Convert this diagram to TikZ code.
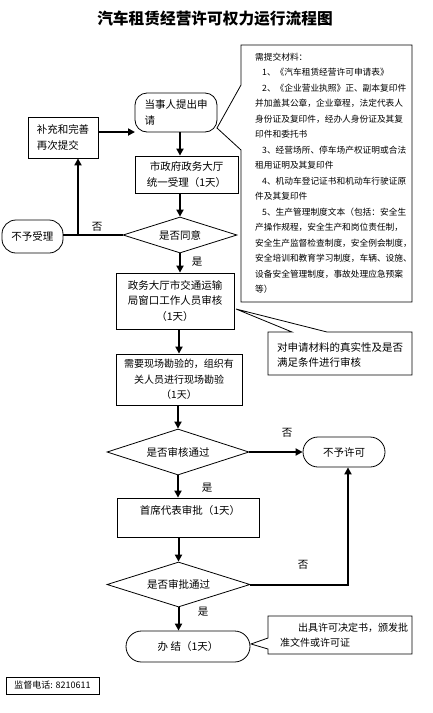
\documentclass[tikz,border=0pt]{standalone}
\usepackage{fontspec}
\setmainfont{Noto Sans CJK SC}
\usetikzlibrary{shapes.geometric,arrows.meta}
\begin{document}
\begin{tikzpicture}[x=1pt,y=-1pt,
  box/.style={draw,line width=0.8pt,inner sep=0pt,align=center,font=\fontsize{10.5}{15.5}\selectfont},
  rbox/.style={box,rounded corners=#1},
  dia/.style={draw,diamond,line width=0.8pt,inner sep=0pt,font=\fontsize{10.5}{15}\selectfont},
  arr/.style={line width=2pt,-{Triangle[length=7pt,width=7pt]}},
  conn/.style={line width=2pt},
  lab/.style={font=\fontsize{10.5}{12}\selectfont,inner sep=0pt},
  thinline/.style={line width=0.8pt,line join=miter},
  txt/.style={inner sep=0pt,align=left,font=\fontsize{10.5}{15}\selectfont}
]
\useasboundingbox (0,0) rectangle (433,713);
\fill[white] (0,0) rectangle (433,713);

% title
\node[inner sep=0pt,font=\fontsize{15.7}{18}\selectfont\bfseries] (title) at (215,19) {汽车租赁经营许可权力运行流程图};

% materials callout
\draw[thinline] (241,45) -- (412,45) -- (412,302) -- (241,302) -- (241,150) -- (217,128) -- (241,85) -- cycle;
\node[anchor=north west,inner sep=0pt,align=left,font=\fontsize{8.7}{15.5}\selectfont] (mat) at (255,52.5) {需提交材料：\\
\hspace*{7pt}1、《汽车租赁经营许可申请表》\\
\hspace*{7pt}2、《企业营业执照》正、副本复印件\\
并加盖其公章，企业章程，法定代表人\\
身份证及复印件，经办人身份证及其复\\
印件和委托书\\
\hspace*{7pt}3、经营场所、停车场产权证明或合法\\
租用证明及其复印件\\
\hspace*{7pt}4、机动车登记证书和机动车行驶证原\\
件及其复印件\\
\hspace*{7pt}5、生产管理制度文本（包括：安全生\\
产操作规程，安全生产和岗位责任制，\\
安全生产监督检查制度，安全例会制度，\\
安全培训和教育学习制度，车辆、设施、\\
设备安全管理制度，事故处理应急预案\\
等）};

% main nodes
\node[rbox=12pt,minimum width=82pt,minimum height=39pt,align=left] (start) at (176,112.5) {当事人提出申\\请};
\node[box,minimum width=70pt,minimum height=41pt,align=left] (bu) at (63,137.5) {补充和完善\\再次提交};
\node[box,minimum width=103pt,minimum height=37pt] (shou) at (186.5,174.5) {市政府政务大厅\\统一受理（1天）};
\node[dia,aspect=3.17,minimum width=114pt,minimum height=36pt] (d1) at (180,235) {是否同意};
\node[rbox=14pt,minimum width=61pt,minimum height=33pt] (buyu) at (32.5,236.5) {不予受理};
\node[box,minimum width=118pt,minimum height=56pt] (s3) at (175,301) {政务大厅市交通运输\\局窗口工作人员审核\\（1天）};

% callout 2
\draw[thinline] (292,332) -- (268,332) -- (268,375) -- (412,375) -- (412,332) -- (327,332) -- (236,309) -- cycle;
\node[txt,anchor=west] (c2) at (277,354.5) {对申请材料的真实性及是否\\满足条件进行审核};

\node[box,minimum width=126pt,minimum height=51pt,font=\fontsize{10}{15.5}\selectfont] (s4) at (179,379.5) {需要现场勘验的，组织有\\关人员进行现场勘验\\（1天）};
\node[dia,aspect=3.09,minimum width=142pt,minimum height=46pt] (d2) at (178,452) {是否审核通过};
\node[rbox=15pt,minimum width=82pt,minimum height=30pt] (np) at (344,452) {不予许可};
\node[box,minimum width=142pt,minimum height=39pt] (s5) at (188,517.5) {};
\node[txt] (s5t) at (190,511) {首席代表审批（1天）};
\node[dia,aspect=3.18,minimum width=143pt,minimum height=45pt] (d3) at (178.5,584.5) {是否审批通过};
\node[rbox=15.5pt,minimum width=124pt,minimum height=31pt] (fin) at (188,646.5) {办\ 结（1天）};

% callout 3
\draw[thinline] (268,638) -- (268,616) -- (412,616) -- (412,654) -- (268,654) -- (268,649) -- (251,644) -- cycle;
\node[txt,anchor=west,font=\fontsize{10}{15}\selectfont] (c3) at (280,635.5) {\hspace*{18pt}出具许可决定书，颁发批\\准文件或许可证};

% phone
\node[box,minimum width=93pt,minimum height=17pt,font=\fontsize{9}{10}\selectfont] (tel) at (52.5,685.5) {监督电话: 8210611};

% connectors
\coordinate (a1) at (135,132);
\coordinate (j1) at (78,235);
\coordinate (cx1) at (180,0);
\coordinate (cx2) at (348,0);
\draw[arr] (bu.east |- a1) -- (a1);
\draw[arr] (start.south -| cx1) -- (shou.north -| cx1);
\draw[arr] (shou.south -| d1.north) -- (d1.north);
\draw[conn] (d1.west) -- (d1.west -| buyu.east);
\draw[arr] (d1.west -| j1) -- (j1 |- bu.south);
\draw[arr] (d1.south) -- (d1.south |- s3.north);
\draw[arr] (s3.south -| s4.north) -- (s4.north);
\draw[arr] (s4.south -| d2.north) -- (d2.north);
\draw[arr] (d2.east) -- (np.west);
\draw[arr] (d2.south) -- (d2.south |- s5.north);
\draw[arr] (s5.south -| d3.north) -- (d3.north);
\draw[arr] (d3.east) -- (d3.east -| cx2) -- (cx2 |- np.south);
\draw[arr] (d3.south) -- (d3.south |- fin.north);

% labels
\node[lab] (l1) at (97,227) {否};
\node[lab] (l2) at (197,262) {是};
\node[lab] (l3) at (287,433) {否};
\node[lab] (l4) at (207,488) {是};
\node[lab] (l5) at (303,565) {否};
\node[lab] (l6) at (203,612) {是};
\end{tikzpicture}
\end{document}
